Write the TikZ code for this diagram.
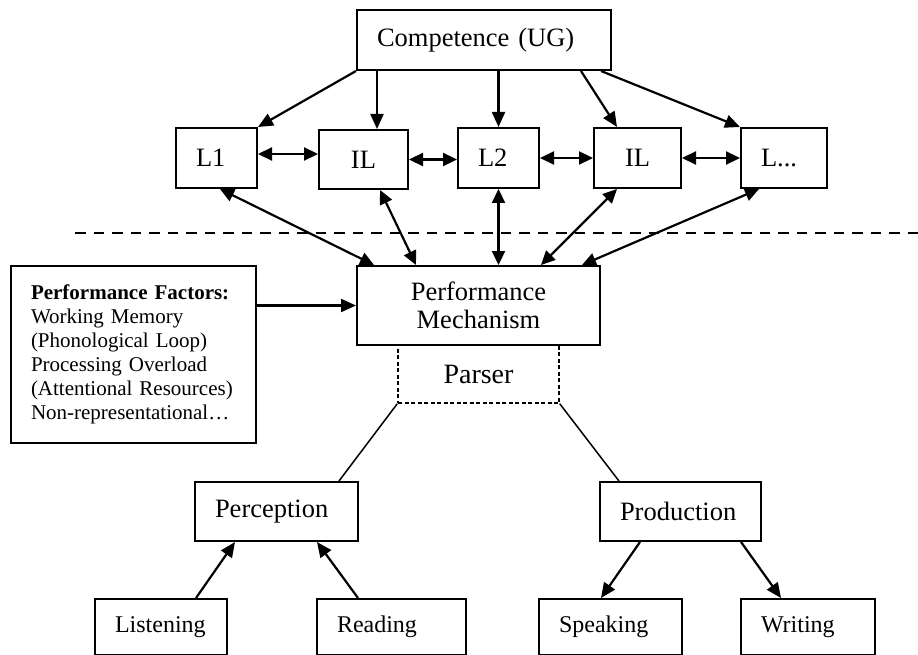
\documentclass[tikz,border=0pt]{standalone}
\usepackage{fontspec}
\setmainfont{Liberation Serif}
\usetikzlibrary{arrows.meta,calc}

\begin{document}
\begin{tikzpicture}[x=1pt,y=-1pt,
  box/.style={draw, line width=2pt, inner xsep=20pt, inner ysep=0pt, align=left,
    font=\fontsize{26.5}{28}\selectfont},
  small/.style={font=\fontsize{24}{26}\selectfont},
  arr/.style={line width=2.2pt, -{Triangle[length=15pt,width=13pt]}},
  darr/.style={line width=2.2pt, {Triangle[length=14pt,width=13pt]}-{Triangle[length=14pt,width=13pt]}},
  link/.style={line width=1.5pt}]
\clip (0,0) rectangle (918,655);

\node[box, text width=214pt, minimum height=60pt] (comp) at (484,40) {Competence (UG)};

\node[box, text width=41pt, minimum height=60pt] (l1) at (216.5,158) {L1};
\node[box, text width=49pt, minimum height=59pt, align=center] (il1) at (363.5,159.5) {IL};
\node[box, text width=41pt, minimum height=60pt] (l2) at (498.5,158) {L2};
\node[box, text width=47pt, minimum height=60pt, align=center] (il2) at (637.5,158) {IL};
\node[box, text width=46pt, minimum height=60pt] (lx) at (784,158) {L...};

\draw[line width=2.2pt, dash pattern=on 10.5pt off 8pt] (75,233) -- (930,233);

\node[box, line width=1.4pt, dash pattern=on 4pt off 2.5pt, inner xsep=0pt, minimum width=161pt,
  minimum height=58pt, align=center, font=\fontsize{28}{30}\selectfont] (parser) at (478.5,374) {Parser};
\node[box, inner xsep=0pt, minimum width=243pt, minimum height=79pt, align=center] (perf) at (478.5,305.5)
  {Performance\\Mechanism};
\node[box, text width=205pt, minimum height=177pt, font=\fontsize{21}{24}\selectfont] (fact) at (133.5,354.5)
  {\textbf{Performance Factors:}\\Working Memory\\(Phonological Loop)\\Processing Overload\\(Attentional Resources)\\Non-representational…};

\node[box, text width=123pt, minimum height=59pt] (perc) at (276.5,511.5) {Perception};
\node[box, text width=121pt, minimum height=59pt] (prod) at (680.5,511.5) {Production};

\node[box, small, text width=92pt, minimum height=56pt] (lis) at (161,627) {Listening};
\node[box, small, text width=109pt, minimum height=56pt] (rea) at (391.5,627) {Reading};
\node[box, small, text width=103pt, minimum height=56pt] (spk) at (610.5,627) {Speaking};
\node[box, small, text width=94pt, minimum height=56pt] (wri) at (808,627) {Writing};

% competence down to the languages
\draw[arr] (comp.south west) -- (l1.north east);
\draw[arr] ($(comp.south west)+(21,0)$) coordinate (c2) -- (c2 |- il1.north);
\draw[arr] (l2.north |- comp.south) -- (l2.north);
\draw[arr] ($(comp.south east)+(-31,0)$) -- ($(il2.north west)+(24,0)$);
\draw[arr] ($(comp.south east)+(-11,0)$) -- (lx.north west);

\draw[darr] ([yshift=4pt]l1.east) -- ([yshift=4pt]l1.east -| il1.west);
\draw[darr] (il1.east) -- (il1.east -| l2.west);
\draw[darr] (l2.east) -- (il2.west);
\draw[darr] (il2.east) -- (lx.west);

% languages to the mechanism
\draw[darr] ($(l1.south)+(3.5,0)$) -- ($(perf.north west)+(18,0)$);
\draw[darr] ($(il1.south)+(16.5,0)$) -- ($(perf.north west)+(60,0)$);
\draw[darr] (l2.south) -- (l2.south |- perf.north);
\draw[darr] ($(il2.south west)+(24,0)$) -- ($(perf.north east)+(-60,0)$);
\draw[darr] ($(lx.south west)+(19,0)$) -- ($(perf.north east)+(-19,0)$);

\draw[arr] (fact.east |- perf.west) -- (perf.west);

\draw[link] (parser.south west) -- ($(perc.north east)+(-20,0)$);
\draw[link] (parser.south east) -- ($(prod.north west)+(20,0)$);

\draw[arr] ($(lis.north)+(35,0)$) -- ($(perc.south)+(-41.5,0)$);
\draw[arr] ($(rea.north)+(-33.5,0)$) -- ($(perc.south)+(40.5,0)$);
\draw[arr] ($(prod.south)+(-40.5,0)$) -- ($(spk.north)+(-9.5,0)$);
\draw[arr] ($(prod.south)+(60.5,0)$) -- ($(wri.north)+(-27,0)$);
\end{tikzpicture}
\end{document}
